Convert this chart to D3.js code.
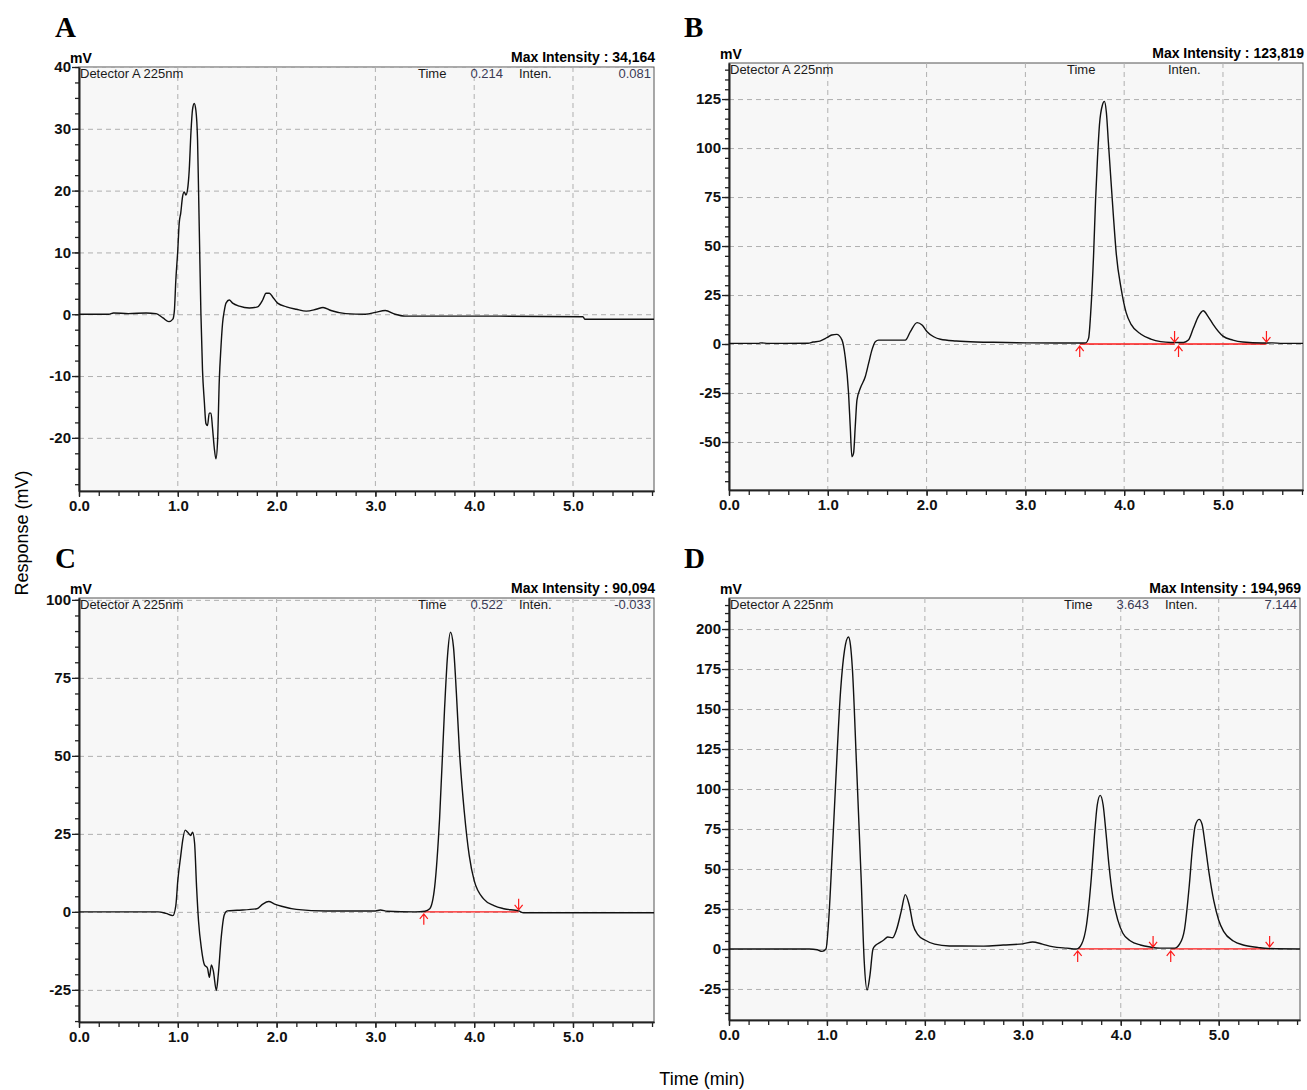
<!DOCTYPE html>
<html>
<head>
<meta charset="utf-8">
<script src="https://cdn.jsdelivr.net/npm/d3@7/dist/d3.min.js"></script>
<style>
body { margin: 0; background: #fff; }
svg text { font-family: "Liberation Sans Narrow", "Arial Narrow", "Liberation Sans", Arial, sans-serif; }
</style>
</head>
<body>
<svg id="chart"></svg>
<script>
const width = 1307;
const height = 1090;

// ---- data ----
const panelLetters = ["A", "B", "C", "D"];
const maxIntensity = ["34,164", "123,819", "90,094", "194,969"];
const cursorTime = ["0.214", "", "0.522", "3.643"];
const cursorInten = ["0.081", "", "-0.033", "7.144"];

const xTicks = [0, 1, 2, 3, 4, 5];
const yTicksA = [-20, -10, 0, 10, 20, 30, 40];
const yTicksB = [-50, -25, 0, 25, 50, 75, 100, 125];
const yTicksC = [-25, 0, 25, 50, 75, 100];
const yTicksD = [-25, 0, 25, 50, 75, 100, 125, 150, 175, 200];

// [time (min), response (mV)]
const traceA = [
  [0, 0], [0.3, 0], [0.35, 0.2], [0.5, 0.1], [0.68, 0.2], [0.78, 0.1], [0.85, -0.6], [0.91, -1.2],
  [0.95, -0.8], [0.965, 0.5], [0.98, 5.5], [1.0, 10.4], [1.014, 14.7], [1.03, 16.4], [1.048, 19],
  [1.065, 19.8], [1.082, 19.3], [1.098, 20.1], [1.116, 23.4], [1.133, 29.4], [1.149, 33.1],
  [1.166, 34.1], [1.183, 33], [1.2, 28.2], [1.21, 20.1], [1.224, 8.2], [1.234, 0.1], [1.25, -9],
  [1.268, -14], [1.285, -17.7], [1.301, -18], [1.318, -16], [1.336, -16], [1.352, -18.5],
  [1.369, -21.6], [1.386, -23.4], [1.403, -20.4], [1.42, -10.7], [1.437, -5.3], [1.453, -1.5],
  [1.471, 0.6], [1.488, 1.8], [1.521, 2.3], [1.555, 1.8], [1.623, 1.3], [1.724, 1], [1.808, 1.2],
  [1.859, 2.3], [1.893, 3.4], [1.927, 3.4], [1.96, 2.8], [2.01, 1.8], [2.1, 1.2], [2.2, 0.8],
  [2.3, 0.5], [2.4, 0.8], [2.47, 1.1], [2.55, 0.6], [2.7, 0.1], [2.9, 0], [3.0, 0.3], [3.1, 0.6],
  [3.2, 0], [3.3, -0.3], [4.0, -0.3], [5.1, -0.4], [5.12, -0.8], [5.82, -0.8]
];

const traceB = [
  [0, 0.3], [0.3, 0.3], [0.32, 0.6], [0.4, 0.3], [0.8, 0.4], [0.85, 1], [0.92, 1.5], [0.99, 3.2],
  [1.04, 4.6], [1.09, 4.9], [1.143, 2.1], [1.176, -6.5], [1.21, -25], [1.227, -42], [1.244, -57.5],
  [1.261, -55.7], [1.278, -42], [1.295, -28.6], [1.329, -22.6], [1.379, -16.7], [1.413, -9.9],
  [1.447, -3], [1.481, 1.2], [1.514, 2], [1.785, 2], [1.836, 6.3], [1.904, 10.9], [1.954, 9.7],
  [2.005, 6.3], [2.072, 3.7], [2.14, 2.4], [2.3, 1.5], [2.5, 1], [2.8, 0.8], [3.0, 0.6], [3.3, 0.5],
  [3.55, 0.5], [3.61, 0.6], [3.64, 3], [3.66, 15], [3.69, 45], [3.71, 73], [3.73, 95], [3.75, 112],
  [3.78, 122], [3.8, 123.8], [3.82, 118], [3.84, 103], [3.86, 88], [3.89, 66], [3.92, 46],
  [3.97, 28], [4.02, 16], [4.07, 10], [4.17, 5], [4.27, 2.5], [4.37, 1.2], [4.47, 0.8], [4.6, 0.8],
  [4.65, 2], [4.7, 8], [4.75, 14], [4.8, 17], [4.85, 14], [4.9, 10], [5.0, 4], [5.1, 2], [5.2, 1],
  [5.4, 0.5], [5.5, 0.6], [5.6, 0.3], [5.81, 0.3]
];

const traceC = [
  [0, 0], [0.8, 0], [0.88, -0.5], [0.95, -1.2], [0.98, 2], [1.0, 10], [1.03, 18], [1.05, 23],
  [1.075, 26.2], [1.1, 25.5], [1.13, 24.5], [1.15, 25.5], [1.17, 22], [1.19, 8], [1.21, -3],
  [1.24, -12], [1.27, -17], [1.3, -18], [1.32, -21], [1.34, -17], [1.36, -19], [1.39, -25.2],
  [1.41, -20], [1.44, -8], [1.47, -1], [1.5, 0.3], [1.6, 0.5], [1.8, 1], [1.86, 2.5], [1.92, 3.3],
  [1.98, 2.5], [2.05, 1.8], [2.2, 0.8], [2.5, 0.3], [3.0, 0.3], [3.05, 0.6], [3.12, 0.2], [3.4, 0],
  [3.5, 0.2], [3.55, 1], [3.6, 8], [3.65, 30], [3.7, 65], [3.73, 82], [3.76, 89.6], [3.79, 85],
  [3.82, 70], [3.85, 52], [3.9, 32], [3.95, 18], [4.0, 10], [4.1, 4], [4.2, 2], [4.3, 1],
  [4.45, 0.3], [4.5, -0.3], [5.82, -0.3]
];

const traceD = [
  [0, 0], [0.82, 0], [0.9, -0.5], [0.95, -1.5], [0.99, 0], [1.02, 20], [1.05, 55], [1.09, 105],
  [1.14, 162], [1.18, 187], [1.22, 195], [1.24, 190], [1.26, 175], [1.3, 118], [1.35, 43],
  [1.38, -7], [1.41, -25.6], [1.44, -16], [1.47, 0], [1.5, 2.5], [1.54, 4], [1.58, 5.6], [1.62, 7.5],
  [1.67, 7], [1.71, 12], [1.76, 24], [1.8, 34], [1.84, 27.5], [1.88, 15], [1.93, 8.8], [2.0, 5.6],
  [2.1, 3], [2.25, 1.9], [2.6, 1.8], [2.8, 2.5], [3.0, 3.2], [3.1, 4.4], [3.2, 3], [3.3, 1.5],
  [3.45, 0.5], [3.55, 0], [3.6, 3], [3.65, 15], [3.7, 45], [3.73, 70], [3.76, 90], [3.79, 96],
  [3.82, 90], [3.85, 72], [3.88, 52], [3.92, 32], [3.97, 18], [4.02, 10], [4.1, 5], [4.2, 2.5],
  [4.3, 1.2], [4.4, 0.5], [4.55, 0.5], [4.6, 3], [4.65, 12], [4.7, 40], [4.73, 62], [4.76, 77],
  [4.8, 81], [4.83, 78], [4.86, 66], [4.9, 48], [4.95, 30], [5.0, 18], [5.05, 11], [5.15, 5],
  [5.25, 2.5], [5.4, 1], [5.5, 0.3], [5.83, 0]
];

// integration marks: [start, end] in min
const peaksA = [];
const peaksB = [[3.55, 4.51], [4.55, 5.44]];
const peaksC = [[3.49, 4.45]];
const peaksD = [[3.56, 4.33], [4.51, 5.52]];

// ---- layout ----
const panels = [
  { trace: traceA, peaks: peaksA, yTicks: yTicksA, minor: 2.5, left: 79, right: 654, top: 67, bottom: 491, x1: 5.82, y0: -28.6, y1: 40,
    lx: 55, ly: 37 },
  { trace: traceB, peaks: peaksB, yTicks: yTicksB, minor: 5, left: 729, right: 1303, top: 63, bottom: 490, x1: 5.81, y0: -74.5, y1: 143.4,
    lx: 684, ly: 37 },
  { trace: traceC, peaks: peaksC, yTicks: yTicksC, minor: 5, left: 79, right: 654, top: 598, bottom: 1022, x1: 5.82, y0: -35.3, y1: 100.6,
    lx: 55, ly: 568 },
  { trace: traceD, peaks: peaksD, yTicks: yTicksD, minor: 5, left: 729, right: 1300, top: 598, bottom: 1020, x1: 5.83, y0: -44.4, y1: 219.4,
    lx: 684, ly: 568 }
];

let svg = d3.select("#chart")
  .attr("width", width)
  .attr("height", height);

const red = "#ff1a1a";

panels.forEach((p, i) => {
  let x = d3.scaleLinear().domain([0, p.x1]).range([p.left, p.right]);
  let y = d3.scaleLinear().domain([p.y0, p.y1]).range([p.bottom, p.top]);
  let g = svg.append("g");

  // panel letter
  svg.append("text")
    .attr("x", p.lx).attr("y", p.ly)
    .style("font-family", "'Liberation Serif', 'Times New Roman', serif")
    .style("font-weight", "bold")
    .style("font-size", "29px")
    .text(panelLetters[i]);

  g.append("rect")
    .attr("x", p.left).attr("y", p.top)
    .attr("width", p.right - p.left).attr("height", p.bottom - p.top)
    .attr("fill", "#f7f7f7")
    .attr("stroke", "#555")
    .attr("stroke-width", 1);

  // dashed grid
  g.selectAll(".gx").data(xTicks.filter(d => d > 0)).join("line")
    .attr("x1", d => x(d)).attr("x2", d => x(d))
    .attr("y1", p.top).attr("y2", p.bottom)
    .attr("stroke", "#b0b0b0").attr("stroke-dasharray", "5,4");
  g.selectAll(".gy").data(p.yTicks).join("line")
    .attr("x1", p.left).attr("x2", p.right)
    .attr("y1", d => y(d) + 0.5).attr("y2", d => y(d) + 0.5)
    .attr("stroke", "#b0b0b0").attr("stroke-dasharray", "5,4");

  // header texts
  svg.append("text")
    .attr("x", p.left - 9).attr("y", p.top - 4)
    .style("font-weight", "bold").style("font-size", "14px")
    .text("mV");
  svg.append("text")
    .attr("x", p.right + 1).attr("y", p.top - 5)
    .attr("text-anchor", "end")
    .style("font-weight", "bold").style("font-size", "14px")
    .text("Max Intensity : " + maxIntensity[i]);

  let info = svg.append("g").style("font-size", "13px");
  info.append("text").attr("x", p.left + 1).attr("y", p.top + 11).attr("fill", "#1a1a1a").text("Detector A 225nm");
  info.append("text").attr("x", p.right - 236).attr("y", p.top + 11).attr("fill", "#1a1a1a").text("Time");
  info.append("text").attr("x", p.right - 151).attr("y", p.top + 11).attr("text-anchor", "end").attr("fill", "#3a3a55").text(cursorTime[i]);
  info.append("text").attr("x", p.right - 135).attr("y", p.top + 11).attr("fill", "#1a1a1a").text("Inten.");
  info.append("text").attr("x", p.right - 3).attr("y", p.top + 11).attr("text-anchor", "end").attr("fill", "#3a3a55").text(cursorInten[i]);

  // axes
  let minorY = d3.range(Math.ceil(p.y0 / p.minor) * p.minor, p.y1 + 0.01, p.minor);
  let minorX = d3.range(0, p.x1, 0.2);

  g.append("g")
    .attr("transform", `translate(${p.left},0)`)
    .call(d3.axisLeft(y).tickValues(minorY).tickSize(4).tickSizeOuter(0).tickFormat(""));
  let ya = g.append("g")
    .attr("class", "axis axis--y")
    .attr("transform", `translate(${p.left},0)`)
    .call(d3.axisLeft(y).tickValues(p.yTicks).tickSize(7).tickSizeOuter(0).tickPadding(1).tickFormat(d => String(d)));
  g.append("g")
    .attr("transform", `translate(0,${p.bottom})`)
    .call(d3.axisBottom(x).tickValues(minorX).tickSize(5).tickSizeOuter(0).tickFormat(""));
  let xa = g.append("g")
    .attr("class", "axis axis--x")
    .attr("transform", `translate(0,${p.bottom})`)
    .call(d3.axisBottom(x).tickValues(xTicks).tickSize(6).tickSizeOuter(0).tickPadding(3).tickFormat(d => d.toFixed(1)));

  g.selectAll(".domain").attr("stroke", "#222").attr("stroke-width", 1.6);
  g.selectAll(".tick line").attr("stroke", "#222").attr("stroke-width", 1.3);
  [ya, xa].forEach(a => a.selectAll("text")
    .attr("fill", "#111")
    .style("font-family", "'Liberation Sans Narrow', 'Arial Narrow', sans-serif")
    .style("font-weight", "bold").style("font-size", "15px"));

  // integration baseline
  p.peaks.forEach(pk => {
    g.append("line")
      .attr("x1", x(pk[0])).attr("x2", x(pk[1]))
      .attr("y1", y(0)).attr("y2", y(0))
      .attr("stroke", red).attr("stroke-width", 1.3);
  });

  let line = d3.line()
    .x(d => x(d[0]))
    .y(d => y(d[1]))
    .curve(d3.curveMonotoneX);

  g.append("path")
    .datum(p.trace)
    .attr("fill", "none")
    .attr("stroke", "#111")
    .attr("stroke-width", 1.4)
    .attr("d", line);

  // start / end arrows
  p.peaks.forEach(pk => {
    let xs = x(pk[0]), xe = x(pk[1]), y0 = y(0);
    g.append("path")
      .attr("d", `M${xs},${y0 + 2}V${y0 + 13}M${xs - 4},${y0 + 7}L${xs},${y0 + 2}L${xs + 4},${y0 + 7}`)
      .attr("fill", "none").attr("stroke", red).attr("stroke-width", 1.2);
    g.append("path")
      .attr("d", `M${xe},${y0 - 13}V${y0 - 2}M${xe - 4},${y0 - 7}L${xe},${y0 - 2}L${xe + 4},${y0 - 7}`)
      .attr("fill", "none").attr("stroke", red).attr("stroke-width", 1.2);
  });
});

// shared axis titles
svg.append("text")
  .attr("transform", "translate(28,533) rotate(-90)")
  .attr("text-anchor", "middle")
  .style("font-family", "'Liberation Sans', Arial, sans-serif")
  .style("font-size", "18px")
  .text("Response (mV)");

svg.append("text")
  .attr("x", 702).attr("y", 1085)
  .attr("text-anchor", "middle")
  .style("font-family", "'Liberation Sans', Arial, sans-serif")
  .style("font-size", "18px")
  .text("Time (min)");
</script>
</body>
</html>
